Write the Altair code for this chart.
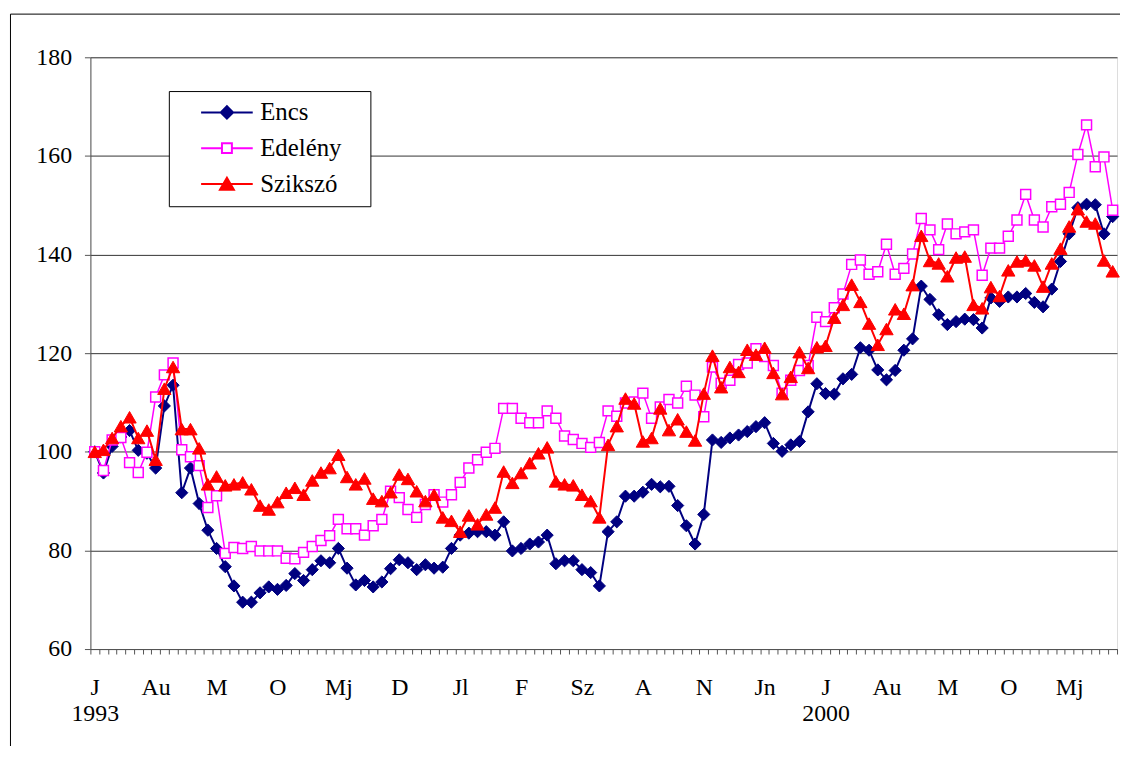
import json
import altair as alt
import pandas as pd

# ---------------- data (monthly index, Jan 1993 = 100) ----------------
series_names = ["Encs", "Edelény", "Szikszó"]
series_colors = ["#000080", "#FF00FF", "#FF0000"]

encs = [100, 95.7, 101.1, 103, 104.3, 100.3, 99.7, 96.7, 109.3, 113.5,
        91.7, 96.7, 89.5, 84.1, 80.4, 76.7, 72.8, 69.5, 69.5, 71.4,
        72.6, 72.1, 72.9, 75.3, 73.9, 76.1, 77.9, 77.5, 80.4, 76.4,
        73.0, 73.9, 72.6, 73.6, 76.3, 78.1, 77.5, 76.1, 77.1, 76.4,
        76.6, 80.4, 83.1, 83.5, 83.8, 83.8, 83.1, 85.8, 79.9, 80.4,
        81.3, 81.7, 83.1, 77.3, 77.9, 77.9, 76.1, 75.5, 72.8, 83.8,
        85.8, 91.0, 91.0, 91.8, 93.4, 92.9, 93.0, 89.1, 85.0, 81.3,
        87.3, 102.4, 101.9, 102.8, 103.4, 104.1, 105.1, 105.9, 101.7, 100.1,
        101.4, 102.1, 108.1, 113.8, 111.8, 111.7, 114.8, 115.7, 121.1, 120.6,
        116.6, 114.6, 116.5, 120.6, 122.9, 133.6, 130.9, 127.8, 125.8, 126.4,
        126.9, 126.8, 125.1, 131.2, 130.5, 131.4, 131.4, 132.1, 130.3, 129.4,
        133.0, 138.6, 144.2, 149.5, 150.2, 150.1, 144.2, 147.7]

edeleny = [100, 96.2, 102.4, 102.9, 97.8, 95.8, 99.9, 111.1, 115.6, 118.0,
           100.4, 99.0, 97.2, 88.7, 91.1, 79.4, 80.6, 80.4, 80.8, 79.9,
           79.9, 79.9, 78.4, 78.3, 79.6, 80.8, 82.0, 83.0, 86.3, 84.4,
           84.4, 83.1, 85.0, 86.3, 92.0, 90.7, 88.3, 86.7, 89.3, 91.3,
           89.8, 91.3, 93.8, 96.7, 98.4, 99.9, 100.7, 108.8, 108.8, 106.8,
           105.9, 105.9, 108.3, 106.8, 103.2, 102.5, 101.7, 100.9, 101.9, 108.3,
           107.2, 109.9, 110.1, 111.9, 106.8, 109.1, 110.6, 109.9, 113.3, 111.5,
           107.1, 117.2, 113.9, 114.5, 117.7, 118.0, 120.9, 119.3, 117.5, 111.9,
           114.5, 116.5, 117.5, 127.3, 126.4, 129.2, 132.0, 138.0, 138.9, 136.0,
           136.5, 142.1, 136.0, 137.2, 140.1, 147.3, 145.0, 141.0, 146.2, 144.2,
           144.6, 145.0, 135.8, 141.3, 141.3, 143.7, 147.0, 152.2, 147.0, 145.6,
           149.7, 150.2, 152.6, 160.3, 166.3, 157.8, 159.8, 149.0]

szikszo = [100, 100.4, 102.8, 105.2, 107.0, 102.8, 104.3, 98.4, 112.8, 117.2,
           104.6, 104.6, 100.7, 93.4, 95.0, 93.2, 93.4, 93.8, 92.4, 89.1,
           88.3, 89.8, 91.7, 92.7, 91.3, 94.2, 95.8, 96.7, 99.4, 94.9,
           93.4, 94.6, 90.5, 90.0, 91.8, 95.4, 94.5, 92.0, 90.0, 91.3,
           86.7, 86.0, 83.8, 87.1, 85.3, 87.3, 88.7, 96.0, 93.7, 95.7,
           97.7, 99.7, 100.9, 94.0, 93.4, 93.2, 91.3, 90.0, 86.7, 101.4,
           105.2, 110.8, 109.8, 102.1, 102.8, 108.8, 104.4, 106.6, 104.1, 102.3,
           111.8, 119.5, 113.1, 117.2, 116.2, 120.7, 119.7, 121.1, 116.0, 111.7,
           115.2, 120.2, 117.0, 121.2, 121.5, 127.2, 129.8, 133.9, 130.4, 126.0,
           121.7, 124.9, 128.9, 128.0, 133.8, 143.8, 138.7, 138.2, 135.6, 139.4,
           139.6, 129.8, 129.1, 133.4, 131.6, 136.8, 138.6, 138.8, 137.8, 133.5,
           138.2, 141.2, 145.7, 149.2, 146.7, 146.3, 138.8, 136.6]

# tick labels: Hungarian month abbreviations, every 7th month labelled
month_abbr = ["J", "F", "M", "A", "Mj", "Jn", "Jl", "Au", "Sz", "O", "N", "D"]
start_year = 1993
label_every = 7
year_label_idx = [0, 84]
y_ticks = [60, 80, 100, 120, 140, 160, 180]

n = len(encs)
idx = list(range(n))

x_labels = []
for i in idx:
    if i % label_every == 0:
        m = month_abbr[i % 12]
        if i in year_label_idx:
            x_labels.append([m, str(start_year + i // 12)])
        else:
            x_labels.append(m)
    else:
        x_labels.append("")

df = pd.DataFrame({
    "i": idx * 3,
    "series": sum([[s] * n for s in series_names], []),
    "value": encs + edeleny + szikszo,
})

FONT = "Liberation Serif, Times New Roman, DejaVu Serif, serif"

x_enc = alt.X(
    "i:O",
    scale=alt.Scale(type="band", domain=idx, paddingInner=0, paddingOuter=0),
    axis=alt.Axis(
        title=None, orient="bottom", tickBand="extent", tickSize=5,
        labelExpr=json.dumps(x_labels) + "[datum.value]",
        labelOverlap=False, labelAngle=0, labelPadding=22,
        labelFont=FONT, labelFontSize=24, labelColor="black",
        labelLineHeight=26, grid=False,
        domainColor="#555555", tickColor="#555555",
    ),
)
y_enc = alt.Y(
    "value:Q",
    scale=alt.Scale(domain=[60, 180], nice=False, zero=False),
    axis=alt.Axis(
        title=None, values=y_ticks, tickSize=6, labelPadding=13,
        labelFont=FONT, labelFontSize=24, labelColor="black",
        grid=True, gridColor="#333333", gridWidth=1,
        domainColor="#555555", tickColor="#555555",
    ),
)

base = alt.Chart(df)

point_styles = [
    dict(shape="diamond", filled=True, fill="#000080", stroke="#000080", strokeWidth=1, size=150),
    dict(shape="square", filled=True, fill="white", stroke="#FF00FF", strokeWidth=1.5, size=100),
    dict(shape="triangle-up", filled=True, fill="#FF0000", stroke="#FF0000", strokeWidth=1, size=180),
]
line_widths = [2, 1.5, 2]

layers = []
# outer frame (decoration only)
frame = alt.Chart(pd.DataFrame({"a": [1]}))
layers.append(frame.mark_rule(color="black", strokeWidth=1).encode(
    x=alt.value(-80.5), y=alt.value(-43.5), y2=alt.value(720)))
layers.append(frame.mark_rule(color="black", strokeWidth=1).encode(
    x=alt.value(-80.5), x2=alt.value(1100), y=alt.value(-43.5)))

for name, col, lw, ps in zip(series_names, series_colors, line_widths, point_styles):
    sub = base.transform_filter(alt.datum.series == name)
    layers.append(sub.mark_line(color=col, strokeWidth=lw).encode(x=x_enc, y=y_enc))
    layers.append(sub.mark_point(opacity=1, **ps).encode(x=x_enc, y=y_enc))

# legend-only layer (no visible marks): symbols are line stubs + markers
legend_paths = [
    "M-2.6,0H2.6M-0.62,0L0,-0.62L0.62,0L0,0.62Z",
    "M-2.6,0H-0.5M0.5,0H2.6M-0.5,-0.5H0.5V0.5H-0.5Z",
    "M-2.6,0H2.6M0,-0.62L0.7,0.58L-0.7,0.58Z",
]
legend_fills = ["#000080", "white", "#FF0000"]
leg = alt.Legend(
    title="n", titleOrient="right", titleOpacity=0, titleFontSize=20, titlePadding=8,
    orient="none", legendX=79, legendY=34,
    fillColor="white", strokeColor="black", padding=9, cornerRadius=0,
    symbolSize=400, symbolStrokeWidth=2, symbolOffset=37, labelOffset=21,
    labelFont=FONT, labelFontSize=25, labelColor="black", rowPadding=10,
)
layers.append(
    base.transform_filter("false").mark_point(opacity=1, filled=True, strokeWidth=2).encode(
        x=x_enc, y=y_enc,
        shape=alt.Shape("series:N", scale=alt.Scale(domain=series_names, range=legend_paths), legend=leg),
        fill=alt.Fill("series:N", scale=alt.Scale(domain=series_names, range=legend_fills), legend=leg),
        stroke=alt.Stroke("series:N", scale=alt.Scale(domain=series_names, range=series_colors), legend=leg),
    )
)

chart = alt.layer(*layers).properties(
    width=1034, height=596,
    autosize=alt.AutoSizeParams(type="none"),
    padding={"left": 83, "top": 47, "right": 3, "bottom": 95},
    background="white",
).configure_view(strokeWidth=0).configure(font=FONT)

chart.save("out.html", embed_options={"renderer": "svg", "actions": False})
